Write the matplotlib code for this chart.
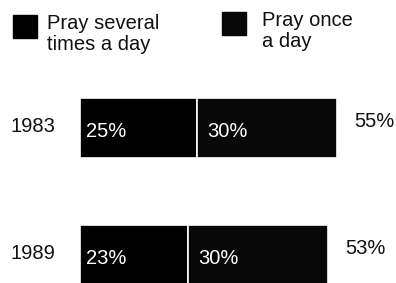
import numpy as np
import matplotlib
matplotlib.use('Agg')
import matplotlib.pyplot as plt
from matplotlib.patches import Rectangle

# -----------------------------------------------------------------------
# data
years = ['1983', '1989']
several = [25, 23]          # pray several times a day (%)
once = [30, 30]             # pray once a day (%)
totals = [55, 53]           # combined (%)
legend_labels = ['Pray several\ntimes a day', 'Pray once\na day']
colors = ['#000000', '#080808']
# -----------------------------------------------------------------------

plt.rcParams['font.family'] = ['Liberation Sans', 'DejaVu Sans']

W, H = 396, 283
fig = plt.figure(figsize=(W / 100, H / 100), dpi=100)
ax = fig.add_axes([0, 0, 1, 1])
ax.set_axis_off()

# 1 percent ~ 4.68 px, bars start at x = 80 px
px_per = 4.68
x0 = 80
ax.set_xlim(-x0 / px_per, (W - x0) / px_per)
# rows centred at y = 128 and 255 px
row_px = 127
ax.set_ylim((H - 128) / row_px, -128 / row_px)

ypos = np.arange(len(years))
bh = 60 / row_px

ax.barh(ypos, several, height=bh, color=colors[0], edgecolor='white', linewidth=1.2)
ax.barh(ypos, once, left=several, height=bh, color=colors[1], edgecolor='white', linewidth=1.2)

fs = 14.5
txt = '#111111'
for i, yr in enumerate(years):
    ax.text(-5.3, ypos[i] - 0.01, yr, ha='right', va='center', fontsize=fs, color=txt)
    ax.text(1.3, ypos[i] + 0.025, '%d%%' % several[i], ha='left', va='center',
            fontsize=fs, color='white')
    ax.text(several[i] + 2.2, ypos[i] + 0.025, '%d%%' % once[i], ha='left', va='center',
            fontsize=fs, color='white')
    ax.text(several[i] + once[i] + 3.7, ypos[i] - 0.055, '%d%%' % totals[i], ha='left',
            va='center', fontsize=fs, color=txt)

# legend, laid out by hand
def fx(px): return px / W
def fy(py): return 1 - py / H

for (sx, sy, tx), lab, col in zip([(13, 15, 47), (222, 12, 262)], legend_labels, colors):
    fig.patches.append(Rectangle((fx(sx), fy(sy + 23)), 24 / W, 23 / H,
                                 transform=fig.transFigure, color=col))
    fig.text(fx(tx), fy(sy - 1), lab, ha='left', va='top', fontsize=fs,
             color=txt, linespacing=1.12)

fig.savefig('out.png', dpi=100)
